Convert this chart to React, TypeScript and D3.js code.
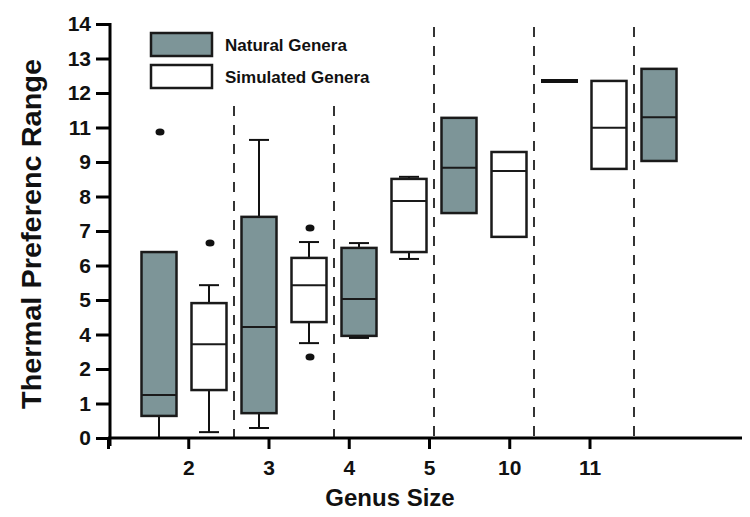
import React, { useRef, useEffect } from 'react';
import * as d3 from 'd3';

// box order: natural/simulated alternating per genus size
const boxGroups = ['2', '2', '3', '3', '4', '4', '5', '5', '10', '10', '11'];
const boxKinds = ['natural', 'simulated', 'natural', 'simulated', 'natural', 'simulated', 'natural', 'simulated', 'natural', 'simulated', 'natural'];
// values in axis units (axis position 0..12)
const q1 = [0.64, 1.39, 0.72, 3.36, 2.96, 5.39, 6.52, 5.83, 10.35, 7.8, 8.03];
const medians = [1.25, 2.72, 3.22, 4.43, 4.03, 6.87, 7.83, 7.74, 10.35, 8.99, 9.3];
const q3 = [5.39, 3.91, 6.41, 5.22, 5.51, 7.51, 9.28, 8.29, 10.35, 10.35, 10.7];
const whiskerLow = [0, 0.17, 0.29, 2.75, 2.9, 5.19, 6.52, 5.83, 10.35, 7.8, 8.03];
const whiskerHigh = [5.39, 4.43, 8.64, 5.68, 5.65, 7.57, 9.28, 8.29, 10.35, 10.35, 10.7];
const outliers: [number, number][] = [[0, 8.87], [1, 5.65], [3, 6.09], [3, 2.35]];

const yTickLabels = ['0', '1', '2', '4', '5', '6', '7', '8', '9', '11', '12', '13', '14'];
const xCategories = ['2', '3', '4', '5', '10', '11'];
const legendItems = ['Natural Genera', 'Simulated Genera'];

const FILL = '#7d9598';
const FONT = 'Arial, "Liberation Sans", Helvetica, sans-serif';

const BoxChart = () => {
    const ref = useRef<SVGSVGElement>(null);

    useEffect(() => {
        const svg = d3.select(ref.current);
        svg.selectAll('*').remove();

        const yScale = d3.scaleLinear().domain([0, 12]).range([438, 24]);
        const xBox = d3.scaleLinear().domain([0, 10]).range([159, 659]);
        const xAxisScale = d3.scaleLinear().domain([0, 8]).range([108, 750]);
        const boxW = 35;

        // dashed separators between genus groups
        const seps = [1.5, 3.5, 5.5, 7.5, 9.5];
        svg.selectAll('line.sep')
            .data(seps)
            .enter()
            .append('line')
            .attr('class', 'sep')
            .attr('x1', (d) => xBox(d))
            .attr('x2', (d) => xBox(d))
            .attr('y1', (d, i) => (i < 2 ? 106 : 27))
            .attr('y2', yScale(0))
            .attr('stroke', '#333')
            .attr('stroke-width', 2)
            .attr('stroke-dasharray', '10,9');

        const idx = d3.range(boxGroups.length);
        const g = svg.append('g');

        // whiskers, boxes and medians
        idx.forEach((i) => {
            const cx = xBox(i);
            const single = q1[i] === q3[i];
            if (single) {
                g.append('line')
                    .attr('x1', cx - 18).attr('x2', cx + 19)
                    .attr('y1', yScale(q3[i])).attr('y2', yScale(q3[i]))
                    .attr('stroke', '#111').attr('stroke-width', 4);
                return;
            }
            if (whiskerHigh[i] > q3[i]) {
                g.append('line')
                    .attr('x1', cx).attr('x2', cx)
                    .attr('y1', yScale(whiskerHigh[i])).attr('y2', yScale(q3[i]))
                    .attr('stroke', '#111').attr('stroke-width', 2);
                g.append('line')
                    .attr('x1', cx - 10).attr('x2', cx + 10)
                    .attr('y1', yScale(whiskerHigh[i])).attr('y2', yScale(whiskerHigh[i]))
                    .attr('stroke', '#111').attr('stroke-width', 2);
            }
            if (whiskerLow[i] < q1[i]) {
                g.append('line')
                    .attr('x1', cx).attr('x2', cx)
                    .attr('y1', yScale(q1[i])).attr('y2', yScale(whiskerLow[i]))
                    .attr('stroke', '#111').attr('stroke-width', 2);
                if (whiskerLow[i] > 0) {
                    g.append('line')
                        .attr('x1', cx - 10).attr('x2', cx + 10)
                        .attr('y1', yScale(whiskerLow[i])).attr('y2', yScale(whiskerLow[i]))
                        .attr('stroke', '#111').attr('stroke-width', 2);
                }
            }
            g.append('rect')
                .attr('x', cx - boxW / 2)
                .attr('y', yScale(q3[i]))
                .attr('width', boxW)
                .attr('height', yScale(q1[i]) - yScale(q3[i]))
                .attr('fill', boxKinds[i] === 'natural' ? FILL : '#fff')
                .attr('stroke', '#1a1a1a')
                .attr('stroke-width', 2.5);
            g.append('line')
                .attr('x1', cx - boxW / 2).attr('x2', cx + boxW / 2)
                .attr('y1', yScale(medians[i])).attr('y2', yScale(medians[i]))
                .attr('stroke', '#1a1a1a').attr('stroke-width', 2);
        });

        // outliers
        g.selectAll('ellipse')
            .data(outliers)
            .enter()
            .append('ellipse')
            .attr('cx', (d) => xBox(d[0]) + 1)
            .attr('cy', (d) => yScale(d[1]))
            .attr('rx', 4.5)
            .attr('ry', 3.5)
            .attr('fill', '#111');

        // y axis
        const yAxis = d3.axisLeft(yScale)
            .tickValues(d3.range(0, 13))
            .tickFormat((d, i) => yTickLabels[i])
            .tickSize(14)
            .tickSizeOuter(0)
            .tickPadding(5);
        const ya = svg.append('g').attr('transform', 'translate(110,0)').call(yAxis);
        ya.select('.domain').attr('stroke-width', 3).attr('d', `M0,${yScale(12) - 1}V${yScale(0) + 8}`);
        ya.selectAll('.tick line').attr('stroke-width', 3);
        ya.selectAll('.tick text')
            .attr('font-family', FONT)
            .attr('font-size', 21)
            .attr('font-weight', 'bold')
            .attr('fill', '#111');

        // x axis
        const xAxis = d3.axisBottom(xAxisScale)
            .tickValues(d3.range(0, 7))
            .tickFormat((d, i) => (i === 0 ? '' : xCategories[i - 1]))
            .tickSize(11)
            .tickSizeOuter(0)
            .tickPadding(11);
        const xa = svg.append('g').attr('transform', `translate(0,${yScale(0)})`).call(xAxis);
        xa.select('.domain').attr('stroke-width', 3).attr('d', 'M108,0H750');
        xa.selectAll('.tick line').attr('stroke-width', 3);
        xa.selectAll('.tick text')
            .attr('font-family', FONT)
            .attr('font-size', 21)
            .attr('font-weight', 'bold')
            .attr('fill', '#111');

        // axis titles
        svg.append('text')
            .attr('transform', 'translate(41,234) rotate(-90)')
            .attr('text-anchor', 'middle')
            .attr('font-family', FONT)
            .attr('font-size', 27)
            .attr('font-weight', 'bold')
            .attr('fill', '#111')
            .attr('textLength', 350)
            .attr('lengthAdjust', 'spacingAndGlyphs')
            .text('Thermal Preferenc Range');

        svg.append('text')
            .attr('x', 390)
            .attr('y', 506)
            .attr('text-anchor', 'middle')
            .attr('font-family', FONT)
            .attr('font-size', 24)
            .attr('font-weight', 'bold')
            .attr('fill', '#111')
            .text('Genus Size');

        // legend
        const leg = svg.selectAll('g.leg')
            .data(legendItems)
            .enter()
            .append('g')
            .attr('class', 'leg')
            .attr('transform', (d, i) => `translate(151,${33 + i * 32})`);
        leg.append('rect')
            .attr('width', 61)
            .attr('height', 23)
            .attr('fill', (d, i) => (i === 0 ? FILL : '#fff'))
            .attr('stroke', '#1a1a1a')
            .attr('stroke-width', 2.5);
        leg.append('text')
            .attr('x', 74)
            .attr('y', 18)
            .attr('font-family', FONT)
            .attr('font-size', 17)
            .attr('font-weight', 'bold')
            .attr('fill', '#111')
            .text((d) => d);
    }, []);

    return <svg ref={ref} width={750} height={517} style={{ display: 'block' }}></svg>;
};

export default function App() {
    return (
        <div style={{ margin: -8 }}>
            <BoxChart />
        </div>
    );
}
